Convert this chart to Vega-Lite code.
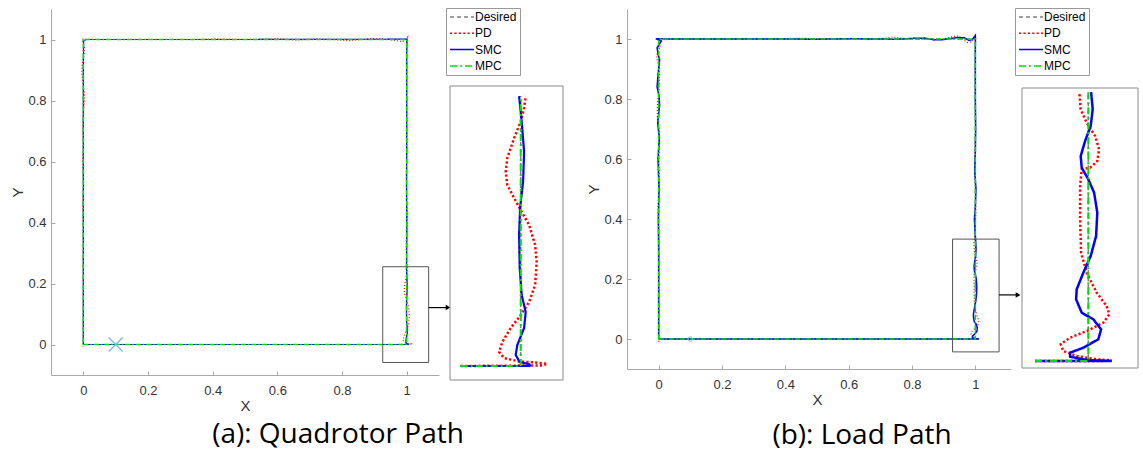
{
"$schema": "https://vega.github.io/schema/vega-lite/v6.json",
"padding": {"left": 10, "top": 7, "right": 0, "bottom": 0},
"config": {"view": {"stroke": null}, "font": "Liberation Sans", "axis": {"grid": false},
 "legend": {"title": null, "orient": "none", "legendY": -1, "symbolType": "M-2.4,0L2.4,0", "symbolSize": 100, "symbolOffset": 7, "symbolStrokeWidth": 1.5, "labelFontSize": 12, "labelColor": "#000", "labelFont": "Liberation Sans", "labelOffset": 7, "rowPadding": 4.3, "padding": 3, "strokeColor": "#999", "fillColor": "#fff"}},
"datasets": {
"a": [
{"s":"Desired","i":0,"x":0,"y":0},{"s":"Desired","i":1,"x":0.97,"y":0},{"s":"Desired","i":2,"x":1,"y":0},{"s":"Desired","i":3,"x":1,"y":0.25},{"s":"Desired","i":4,"x":1,"y":1},{"s":"Desired","i":5,"x":0,"y":1},{"s":"Desired","i":6,"x":0,"y":0},
{"s":"MPC","i":0,"x":0,"y":0},{"s":"MPC","i":1,"x":0.97,"y":0},{"s":"MPC","i":2,"x":1,"y":0},{"s":"MPC","i":3,"x":1,"y":0.25},{"s":"MPC","i":4,"x":1,"y":1},{"s":"MPC","i":5,"x":0,"y":1},{"s":"MPC","i":6,"x":0,"y":0},
{"s":"SMC","i":0,"x":0,"y":0},{"s":"SMC","i":1,"x":0.97,"y":0},{"s":"SMC","i":2,"x":1.005,"y":0},{"s":"SMC","i":3,"x":1.0042,"y":0.0016},{"s":"SMC","i":4,"x":0.9995,"y":0.0037},{"s":"SMC","i":5,"x":0.9975,"y":0.0102},{"s":"SMC","i":6,"x":0.9983,"y":0.0194},{"s":"SMC","i":7,"x":1.0017,"y":0.0352},{"s":"SMC","i":8,"x":1.0025,"y":0.05},{"s":"SMC","i":9,"x":1.0005,"y":0.0657},{"s":"SMC","i":10,"x":0.9995,"y":0.0907},{"s":"SMC","i":11,"x":0.9992,"y":0.1213},{"s":"SMC","i":12,"x":0.9997,"y":0.1463},{"s":"SMC","i":13,"x":1.0012,"y":0.1707},{"s":"SMC","i":14,"x":1.0017,"y":0.1984},{"s":"SMC","i":15,"x":1.0005,"y":0.2262},{"s":"SMC","i":16,"x":0.9992,"y":0.25},{"s":"SMC","i":17,"x":1.0005,"y":0.35},{"s":"SMC","i":18,"x":0.9995,"y":0.5},{"s":"SMC","i":19,"x":1.0,"y":0.7},{"s":"SMC","i":20,"x":1.0,"y":0.95},{"s":"SMC","i":21,"x":1.001,"y":1.002},{"s":"SMC","i":22,"x":0.99,"y":1.001},{"s":"SMC","i":23,"x":0.5,"y":1.0},{"s":"SMC","i":24,"x":0.01,"y":1.0},{"s":"SMC","i":25,"x":0.001,"y":0.997},{"s":"SMC","i":26,"x":0,"y":0.9},{"s":"SMC","i":27,"x":0,"y":0.5},{"s":"SMC","i":28,"x":0,"y":0},
{"s":"PD","i":0,"x":0,"y":0},{"s":"PD","i":1,"x":0.97,"y":0},{"s":"PD","i":2,"x":1.0102,"y":0.0005},{"s":"PD","i":3,"x":1.0133,"y":0.0019},{"s":"PD","i":4,"x":1.0075,"y":0.0032},{"s":"PD","i":5,"x":0.9992,"y":0.0042},{"s":"PD","i":6,"x":0.9917,"y":0.0074},{"s":"PD","i":7,"x":0.9892,"y":0.013},{"s":"PD","i":8,"x":0.9908,"y":0.0222},{"s":"PD","i":9,"x":0.995,"y":0.0352},{"s":"PD","i":10,"x":1.0,"y":0.0472},{"s":"PD","i":11,"x":1.0042,"y":0.0593},{"s":"PD","i":12,"x":1.0072,"y":0.075},{"s":"PD","i":13,"x":1.008,"y":0.0963},{"s":"PD","i":14,"x":1.0072,"y":0.112},{"s":"PD","i":15,"x":1.0042,"y":0.1306},{"s":"PD","i":16,"x":1.0,"y":0.1445},{"s":"PD","i":17,"x":0.9967,"y":0.1556},{"s":"PD","i":18,"x":0.9933,"y":0.1676},{"s":"PD","i":19,"x":0.9925,"y":0.1799},{"s":"PD","i":20,"x":0.9933,"y":0.1926},{"s":"PD","i":21,"x":0.9967,"y":0.2111},{"s":"PD","i":22,"x":1.0,"y":0.2262},{"s":"PD","i":23,"x":1.0017,"y":0.2389},{"s":"PD","i":24,"x":1.0025,"y":0.25},{"s":"PD","i":25,"x":1.0,"y":0.28},{"s":"PD","i":26,"x":0.998,"y":0.32},{"s":"PD","i":27,"x":1.0,"y":0.36},{"s":"PD","i":28,"x":1.003,"y":0.42},{"s":"PD","i":29,"x":1.0,"y":0.48},{"s":"PD","i":30,"x":0.999,"y":0.55},{"s":"PD","i":31,"x":1.001,"y":0.65},{"s":"PD","i":32,"x":1.0,"y":0.75},{"s":"PD","i":33,"x":1.0,"y":0.9},{"s":"PD","i":34,"x":1.0,"y":0.98},{"s":"PD","i":35,"x":1.003,"y":1.008},{"s":"PD","i":36,"x":0.995,"y":0.997},{"s":"PD","i":37,"x":0.985,"y":0.993},{"s":"PD","i":38,"x":0.97,"y":0.996},{"s":"PD","i":39,"x":0.95,"y":1.0},{"s":"PD","i":40,"x":0.92,"y":1.003},{"s":"PD","i":41,"x":0.89,"y":1.003},{"s":"PD","i":42,"x":0.86,"y":1.0},{"s":"PD","i":43,"x":0.82,"y":0.996},{"s":"PD","i":44,"x":0.79,"y":0.999},{"s":"PD","i":45,"x":0.72,"y":1.002},{"s":"PD","i":46,"x":0.66,"y":0.998},{"s":"PD","i":47,"x":0.6,"y":1.002},{"s":"PD","i":48,"x":0.5,"y":1.0},{"s":"PD","i":49,"x":0.41,"y":1.002},{"s":"PD","i":50,"x":0.35,"y":1.0},{"s":"PD","i":51,"x":0.05,"y":1.0},{"s":"PD","i":52,"x":-0.003,"y":1.001},{"s":"PD","i":53,"x":-0.001,"y":0.99},{"s":"PD","i":54,"x":0.003,"y":0.975},{"s":"PD","i":55,"x":0.002,"y":0.95},{"s":"PD","i":56,"x":-0.004,"y":0.915},{"s":"PD","i":57,"x":-0.005,"y":0.89},{"s":"PD","i":58,"x":-0.001,"y":0.86},{"s":"PD","i":59,"x":0.003,"y":0.83},{"s":"PD","i":60,"x":0.004,"y":0.8},{"s":"PD","i":61,"x":0.001,"y":0.77},{"s":"PD","i":62,"x":-0.002,"y":0.72},{"s":"PD","i":63,"x":0,"y":0.66},{"s":"PD","i":64,"x":-0.002,"y":0.6},{"s":"PD","i":65,"x":0.001,"y":0.53},{"s":"PD","i":66,"x":-0.002,"y":0.45},{"s":"PD","i":67,"x":0,"y":0.38},{"s":"PD","i":68,"x":0,"y":0.02},{"s":"PD","i":69,"x":-0.001,"y":-0.008},{"s":"PD","i":70,"x":0,"y":0}
],
"b": [
{"s":"Desired","i":0,"x":0,"y":0},{"s":"Desired","i":1,"x":0.9734,"y":0},{"s":"Desired","i":2,"x":1,"y":0},{"s":"Desired","i":3,"x":1,"y":0.32},{"s":"Desired","i":4,"x":1,"y":1},{"s":"Desired","i":5,"x":0,"y":1},{"s":"Desired","i":6,"x":0,"y":0},
{"s":"MPC","i":0,"x":0,"y":0},{"s":"MPC","i":1,"x":0.9734,"y":0},{"s":"MPC","i":2,"x":1,"y":0},{"s":"MPC","i":3,"x":1,"y":0.32},{"s":"MPC","i":4,"x":1,"y":1},{"s":"MPC","i":5,"x":0,"y":1},{"s":"MPC","i":6,"x":0,"y":0},
{"s":"SMC","i":0,"x":0,"y":0},{"s":"SMC","i":1,"x":0.9734,"y":0},{"s":"SMC","i":2,"x":1.0117,"y":0},{"s":"SMC","i":3,"x":0.9992,"y":0.0012},{"s":"SMC","i":4,"x":0.9909,"y":0.0051},{"s":"SMC","i":5,"x":0.9909,"y":0.0099},{"s":"SMC","i":6,"x":0.9975,"y":0.0158},{"s":"SMC","i":7,"x":1.005,"y":0.0258},{"s":"SMC","i":8,"x":1.0064,"y":0.0377},{"s":"SMC","i":9,"x":1.0025,"y":0.0496},{"s":"SMC","i":10,"x":0.9967,"y":0.0575},{"s":"SMC","i":11,"x":0.9939,"y":0.0734},{"s":"SMC","i":12,"x":0.9942,"y":0.0853},{"s":"SMC","i":13,"x":0.9975,"y":0.105},{"s":"SMC","i":14,"x":1.0012,"y":0.1249},{"s":"SMC","i":15,"x":1.0039,"y":0.1487},{"s":"SMC","i":16,"x":1.0045,"y":0.1764},{"s":"SMC","i":17,"x":1.0029,"y":0.2002},{"s":"SMC","i":18,"x":1.0,"y":0.2162},{"s":"SMC","i":19,"x":0.9967,"y":0.23},{"s":"SMC","i":20,"x":0.9962,"y":0.2439},{"s":"SMC","i":21,"x":0.9984,"y":0.2617},{"s":"SMC","i":22,"x":1.0012,"y":0.2796},{"s":"SMC","i":23,"x":1.0022,"y":0.2994},{"s":"SMC","i":24,"x":1.0014,"y":0.32},{"s":"SMC","i":25,"x":0.999,"y":0.36},{"s":"SMC","i":26,"x":0.997,"y":0.4},{"s":"SMC","i":27,"x":1.0,"y":0.44},{"s":"SMC","i":28,"x":1.002,"y":0.5},{"s":"SMC","i":29,"x":0.998,"y":0.56},{"s":"SMC","i":30,"x":1.0,"y":0.62},{"s":"SMC","i":31,"x":1.001,"y":0.7},{"s":"SMC","i":32,"x":1.0,"y":0.8},{"s":"SMC","i":33,"x":1.0,"y":0.95},{"s":"SMC","i":34,"x":1.0,"y":1.012},{"s":"SMC","i":35,"x":0.99,"y":0.998},{"s":"SMC","i":36,"x":0.98,"y":0.995},{"s":"SMC","i":37,"x":0.965,"y":1.004},{"s":"SMC","i":38,"x":0.945,"y":1.005},{"s":"SMC","i":39,"x":0.925,"y":1.002},{"s":"SMC","i":40,"x":0.9,"y":0.998},{"s":"SMC","i":41,"x":0.87,"y":0.997},{"s":"SMC","i":42,"x":0.84,"y":1.003},{"s":"SMC","i":43,"x":0.8,"y":1.002},{"s":"SMC","i":44,"x":0.75,"y":0.999},{"s":"SMC","i":45,"x":0.7,"y":1.0},{"s":"SMC","i":46,"x":0.6,"y":1.001},{"s":"SMC","i":47,"x":0.5,"y":0.999},{"s":"SMC","i":48,"x":0.4,"y":1.0},{"s":"SMC","i":49,"x":0.05,"y":1.0},{"s":"SMC","i":50,"x":-0.009,"y":1.001},{"s":"SMC","i":51,"x":0.008,"y":0.993},{"s":"SMC","i":52,"x":-0.005,"y":0.971},{"s":"SMC","i":53,"x":-0.002,"y":0.95},{"s":"SMC","i":54,"x":0.003,"y":0.93},{"s":"SMC","i":55,"x":-0.002,"y":0.88},{"s":"SMC","i":56,"x":-0.005,"y":0.84},{"s":"SMC","i":57,"x":0.001,"y":0.81},{"s":"SMC","i":58,"x":0.003,"y":0.78},{"s":"SMC","i":59,"x":-0.003,"y":0.72},{"s":"SMC","i":60,"x":0.002,"y":0.67},{"s":"SMC","i":61,"x":-0.002,"y":0.6},{"s":"SMC","i":62,"x":0.001,"y":0.5},{"s":"SMC","i":63,"x":-0.001,"y":0.4},{"s":"SMC","i":64,"x":0,"y":0.3},{"s":"SMC","i":65,"x":0,"y":0.02},{"s":"SMC","i":66,"x":0,"y":0},
{"s":"PD","i":0,"x":0,"y":0},{"s":"PD","i":1,"x":0.9734,"y":0},{"s":"PD","i":2,"x":1.0084,"y":0},{"s":"PD","i":3,"x":1.0117,"y":0.0006},{"s":"PD","i":4,"x":1.0042,"y":0.002},{"s":"PD","i":5,"x":0.9942,"y":0.0059},{"s":"PD","i":6,"x":0.9875,"y":0.0119},{"s":"PD","i":7,"x":0.9862,"y":0.0199},{"s":"PD","i":8,"x":0.9909,"y":0.0277},{"s":"PD","i":9,"x":0.9992,"y":0.0357},{"s":"PD","i":10,"x":1.0075,"y":0.0456},{"s":"PD","i":11,"x":1.0105,"y":0.0556},{"s":"PD","i":12,"x":1.0092,"y":0.0654},{"s":"PD","i":13,"x":1.0042,"y":0.0812},{"s":"PD","i":14,"x":0.9992,"y":0.105},{"s":"PD","i":15,"x":0.9964,"y":0.1288},{"s":"PD","i":16,"x":0.9959,"y":0.1686},{"s":"PD","i":17,"x":0.9959,"y":0.2082},{"s":"PD","i":18,"x":0.9967,"y":0.228},{"s":"PD","i":19,"x":1.0009,"y":0.23},{"s":"PD","i":20,"x":1.0045,"y":0.2379},{"s":"PD","i":21,"x":1.0054,"y":0.2518},{"s":"PD","i":22,"x":1.0034,"y":0.2677},{"s":"PD","i":23,"x":0.9992,"y":0.2835},{"s":"PD","i":24,"x":0.9962,"y":0.2994},{"s":"PD","i":25,"x":0.9955,"y":0.32},{"s":"PD","i":26,"x":0.999,"y":0.36},{"s":"PD","i":27,"x":1.002,"y":0.42},{"s":"PD","i":28,"x":1.0,"y":0.5},{"s":"PD","i":29,"x":0.998,"y":0.6},{"s":"PD","i":30,"x":1.001,"y":0.7},{"s":"PD","i":31,"x":1.0,"y":0.85},{"s":"PD","i":32,"x":1.0,"y":0.97},{"s":"PD","i":33,"x":1.002,"y":1.006},{"s":"PD","i":34,"x":0.985,"y":0.99},{"s":"PD","i":35,"x":0.975,"y":0.988},{"s":"PD","i":36,"x":0.96,"y":1.0},{"s":"PD","i":37,"x":0.945,"y":1.01},{"s":"PD","i":38,"x":0.93,"y":1.008},{"s":"PD","i":39,"x":0.9,"y":1.0},{"s":"PD","i":40,"x":0.86,"y":0.999},{"s":"PD","i":41,"x":0.82,"y":1.0},{"s":"PD","i":42,"x":0.77,"y":1.002},{"s":"PD","i":43,"x":0.74,"y":1.007},{"s":"PD","i":44,"x":0.7,"y":1.0},{"s":"PD","i":45,"x":0.66,"y":0.998},{"s":"PD","i":46,"x":0.6,"y":1.0},{"s":"PD","i":47,"x":0.45,"y":1.002},{"s":"PD","i":48,"x":0.1,"y":1.0},{"s":"PD","i":49,"x":0.02,"y":1.0},{"s":"PD","i":50,"x":0.004,"y":0.99},{"s":"PD","i":51,"x":0.005,"y":0.97},{"s":"PD","i":52,"x":-0.005,"y":0.955},{"s":"PD","i":53,"x":-0.006,"y":0.935},{"s":"PD","i":54,"x":0,"y":0.91},{"s":"PD","i":55,"x":0.003,"y":0.88},{"s":"PD","i":56,"x":0.001,"y":0.83},{"s":"PD","i":57,"x":-0.004,"y":0.78},{"s":"PD","i":58,"x":-0.004,"y":0.74},{"s":"PD","i":59,"x":0.001,"y":0.7},{"s":"PD","i":60,"x":0.003,"y":0.66},{"s":"PD","i":61,"x":0,"y":0.6},{"s":"PD","i":62,"x":0.002,"y":0.52},{"s":"PD","i":63,"x":-0.002,"y":0.45},{"s":"PD","i":64,"x":0,"y":0.35},{"s":"PD","i":65,"x":0,"y":0.02},{"s":"PD","i":66,"x":0,"y":-0.01}
]
},
"spacing": 11, "bounds": "flush",
"resolve": {"scale": {"x": "independent", "y": "independent", "color": "independent", "strokeDash": "independent"}, "legend": {"color": "independent", "strokeDash": "independent"}},
"hconcat": [
{
"width": 388, "height": 366,
"title": {"text": "(a): Quadrotor Path", "orient": "bottom", "anchor": "middle", "offset": 8, "dx": 93, "font": "Open Sans", "fontSize": 28, "fontWeight": "normal", "color": "#000"},
"layer": [
{
"data": {"name": "a"},
"encoding": {
"x": {"field": "x", "type": "quantitative", "scale": {"domain": [-0.1, 1.1], "nice": false, "zero": false},
 "axis": {"title": "X", "values": [0, 0.2, 0.4, 0.6, 0.8, 1], "format": "~g", "domainColor": "#a8a8a8", "tickColor": "#a8a8a8", "tickSize": -4, "labelFontSize": 13, "labelColor": "#333", "labelPadding": 13, "titleFontSize": 15, "titleFontWeight": "normal", "titleColor": "#333", "titlePadding": 1}},
"y": {"field": "y", "type": "quantitative", "scale": {"domain": [-0.1, 1.1], "nice": false, "zero": false},
 "axis": {"title": "Y", "values": [0, 0.2, 0.4, 0.6, 0.8, 1], "format": "~g", "domainColor": "#a8a8a8", "tickColor": "#a8a8a8", "tickSize": -4, "labelFontSize": 13, "labelColor": "#333", "labelPadding": 9, "titleFontSize": 15, "titleFontWeight": "normal", "titleColor": "#333", "titlePadding": 2}},
"order": {"field": "i", "type": "quantitative"},
"color": {"field": "s", "type": "nominal", "scale": {"domain": ["Desired", "PD", "SMC", "MPC"], "range": ["#808080", "#ff0000", "#0000ff", "#00e000"]}, "legend": null},
"strokeDash": {"field": "s", "type": "nominal", "scale": {"domain": ["Desired", "PD", "SMC", "MPC"], "range": [[4, 3], [1, 2], [1, 0], [5, 2, 1.5, 2]]}, "legend": null}
},
"layer": [
{"transform": [{"filter": "datum.s === 'Desired'"}], "mark": {"type": "line", "strokeWidth": 1}},
{"transform": [{"filter": "datum.s === 'PD'"}], "mark": {"type": "line", "strokeWidth": 1.2}},
{"transform": [{"filter": "datum.s === 'SMC'"}], "mark": {"type": "line", "strokeWidth": 1.2}},
{"transform": [{"filter": "datum.s === 'MPC'"}], "mark": {"type": "line", "strokeWidth": 1.6}}
]
},
{"data": {"values": [{"x1": 0.926, "x2": 1.068, "y1": -0.059, "y2": 0.255}]}, "mark": {"type": "rect", "filled": false, "stroke": "#555", "strokeWidth": 1}, "encoding": {"x": {"field": "x1", "type": "quantitative"}, "x2": {"field": "x2"}, "y": {"field": "y1", "type": "quantitative"}, "y2": {"field": "y2"}}},
{"data": {"values": [{"x1": 1.068, "x2": 1.128, "y": 0.121}]}, "mark": {"type": "rule", "color": "#000", "strokeWidth": 1.2}, "encoding": {"x": {"field": "x1", "type": "quantitative"}, "x2": {"field": "x2"}, "y": {"field": "y", "type": "quantitative"}}},
{"data": {"values": [{"x": 1.128, "y": 0.121}]}, "mark": {"type": "point", "shape": "triangle-right", "filled": true, "color": "#000", "size": 30, "opacity": 1}, "encoding": {"x": {"field": "x", "type": "quantitative"}, "y": {"field": "y", "type": "quantitative"}}},
{"data": {"values": [{"x": 0.1, "y": 0}]}, "mark": {"type": "point", "shape": "M-1,-1L1,1M-1,1L1,-1", "filled": false, "color": "#7ab8e6", "size": 196, "strokeWidth": 1.2, "opacity": 1}, "encoding": {"x": {"field": "x", "type": "quantitative"}, "y": {"field": "y", "type": "quantitative"}}}
]
},
{
"width": 166, "height": 371,
"layer": [
{"data": {"values": [{"x1": 0.96465, "x2": 1.02115, "y1": -0.01296, "y2": 0.2593}]}, "mark": {"type": "rect", "filled": false, "stroke": "#8a8a8a", "strokeWidth": 1}, "encoding": {"x": {"field": "x1", "type": "quantitative", "scale": {"domain": [0.96465, 1.04765], "nice": false, "zero": false}, "axis": null}, "x2": {"field": "x2"}, "y": {"field": "y1", "type": "quantitative", "scale": {"domain": [-0.01296, 0.3306], "nice": false, "zero": false}, "axis": null}, "y2": {"field": "y2"}}},
{
"data": {"name": "a"},
"transform": [{"filter": "datum.x >= 0.969 && datum.y <= 0.2505"}],
"encoding": {
"x": {"field": "x", "type": "quantitative", "axis": null},
"y": {"field": "y", "type": "quantitative", "axis": null},
"order": {"field": "i", "type": "quantitative"},
"color": {"field": "s", "type": "nominal", "scale": {"domain": ["Desired", "PD", "SMC", "MPC"], "range": ["#808080", "#ff0000", "#0000ff", "#00e000"]}, "legend": {"legendX": -4}},
"strokeDash": {"field": "s", "type": "nominal", "scale": {"domain": ["Desired", "PD", "SMC", "MPC"], "range": [[4, 3], [2.2, 2.2], [1, 0], [7, 3, 2, 3]]}, "legend": {"legendX": -4}}
},
"layer": [
{"transform": [{"filter": "datum.s === 'Desired'"}], "mark": {"type": "line", "strokeWidth": 1.5}},
{"transform": [{"filter": "datum.s === 'PD'"}], "mark": {"type": "line", "strokeWidth": 2.5}},
{"transform": [{"filter": "datum.s === 'SMC'"}], "mark": {"type": "line", "strokeWidth": 2.2}},
{"transform": [{"filter": "datum.s === 'MPC'"}], "mark": {"type": "line", "strokeWidth": 2}}
]
}
]
},
{
"width": 384, "height": 360,
"title": {"text": "(b): Load Path", "orient": "bottom", "anchor": "middle", "offset": 15, "dx": 43, "font": "Open Sans", "fontSize": 28, "fontWeight": "normal", "color": "#000"},
"layer": [
{
"data": {"name": "b"},
"encoding": {
"x": {"field": "x", "type": "quantitative", "scale": {"domain": [-0.1, 1.11263], "nice": false, "zero": false},
 "axis": {"title": "X", "values": [0, 0.2, 0.4, 0.6, 0.8, 1], "format": "~g", "domainColor": "#a8a8a8", "tickColor": "#a8a8a8", "tickSize": -4, "labelFontSize": 13, "labelColor": "#333", "labelPadding": 13, "titleFontSize": 15, "titleFontWeight": "normal", "titleColor": "#333", "titlePadding": 1, "titleX": 190}},
"y": {"field": "y", "type": "quantitative", "scale": {"domain": [-0.1, 1.1], "nice": false, "zero": false},
 "axis": {"title": "Y", "values": [0, 0.2, 0.4, 0.6, 0.8, 1], "format": "~g", "domainColor": "#a8a8a8", "tickColor": "#a8a8a8", "tickSize": -4, "labelFontSize": 13, "labelColor": "#333", "labelPadding": 9, "titleFontSize": 15, "titleFontWeight": "normal", "titleColor": "#333", "titlePadding": 2}},
"order": {"field": "i", "type": "quantitative"},
"color": {"field": "s", "type": "nominal", "scale": {"domain": ["Desired", "PD", "SMC", "MPC"], "range": ["#808080", "#ff0000", "#0000ff", "#00e000"]}, "legend": null},
"strokeDash": {"field": "s", "type": "nominal", "scale": {"domain": ["Desired", "PD", "SMC", "MPC"], "range": [[4, 3], [1, 2], [1, 0], [5, 2, 1.5, 2]]}, "legend": null}
},
"layer": [
{"transform": [{"filter": "datum.s === 'Desired'"}], "mark": {"type": "line", "strokeWidth": 1}},
{"transform": [{"filter": "datum.s === 'PD'"}], "mark": {"type": "line", "strokeWidth": 1.2}},
{"transform": [{"filter": "datum.s === 'SMC'"}], "mark": {"type": "line", "strokeWidth": 1.5}},
{"transform": [{"filter": "datum.s === 'MPC'"}], "mark": {"type": "line", "strokeWidth": 1.6}}
]
},
{"data": {"values": [{"x1": 0.928, "x2": 1.075, "y1": -0.043, "y2": 0.333}]}, "mark": {"type": "rect", "filled": false, "stroke": "#555", "strokeWidth": 1}, "encoding": {"x": {"field": "x1", "type": "quantitative"}, "x2": {"field": "x2"}, "y": {"field": "y1", "type": "quantitative"}, "y2": {"field": "y2"}}},
{"data": {"values": [{"x1": 1.075, "x2": 1.135, "y": 0.147}]}, "mark": {"type": "rule", "color": "#000", "strokeWidth": 1.2}, "encoding": {"x": {"field": "x1", "type": "quantitative"}, "x2": {"field": "x2"}, "y": {"field": "y", "type": "quantitative"}}},
{"data": {"values": [{"x": 1.135, "y": 0.147}]}, "mark": {"type": "point", "shape": "triangle-right", "filled": true, "color": "#000", "size": 30, "opacity": 1}, "encoding": {"x": {"field": "x", "type": "quantitative"}, "y": {"field": "y", "type": "quantitative"}}},
{"data": {"values": [{"x": 0.1, "y": 0}]}, "mark": {"type": "point", "shape": "circle", "filled": false, "color": "#7ab8e6", "size": 20, "strokeWidth": 1, "opacity": 1}, "encoding": {"x": {"field": "x", "type": "quantitative"}, "y": {"field": "y", "type": "quantitative"}}}
]
},
{
"width": 116, "height": 359,
"layer": [
{"data": {"values": [{"x1": 0.96685, "x2": 1.02485, "y1": -0.00833, "y2": 0.3248}]}, "mark": {"type": "rect", "filled": false, "stroke": "#8a8a8a", "strokeWidth": 1}, "encoding": {"x": {"field": "x1", "type": "quantitative", "scale": {"domain": [0.96685, 1.02485], "nice": false, "zero": false}, "axis": null}, "x2": {"field": "x2"}, "y": {"field": "y1", "type": "quantitative", "scale": {"domain": [-0.00833, 0.4188], "nice": false, "zero": false}, "axis": null}, "y2": {"field": "y2"}}},
{
"data": {"name": "b"},
"transform": [{"filter": "datum.x >= 0.973 && datum.y <= 0.3205"}],
"encoding": {
"x": {"field": "x", "type": "quantitative", "axis": null},
"y": {"field": "y", "type": "quantitative", "axis": null},
"order": {"field": "i", "type": "quantitative"},
"color": {"field": "s", "type": "nominal", "scale": {"domain": ["Desired", "PD", "SMC", "MPC"], "range": ["#808080", "#ff0000", "#0000ff", "#00e000"]}, "legend": {"legendX": -7}},
"strokeDash": {"field": "s", "type": "nominal", "scale": {"domain": ["Desired", "PD", "SMC", "MPC"], "range": [[4, 3], [2.2, 2.2], [1, 0], [7, 3, 2, 3]]}, "legend": {"legendX": -7}}
},
"layer": [
{"transform": [{"filter": "datum.s === 'Desired'"}], "mark": {"type": "line", "strokeWidth": 1.5}},
{"transform": [{"filter": "datum.s === 'PD'"}], "mark": {"type": "line", "strokeWidth": 2.5}},
{"transform": [{"filter": "datum.s === 'SMC'"}], "mark": {"type": "line", "strokeWidth": 2.5}},
{"transform": [{"filter": "datum.s === 'MPC'"}], "mark": {"type": "line", "strokeWidth": 2}}
]
}
]
}
]
}
